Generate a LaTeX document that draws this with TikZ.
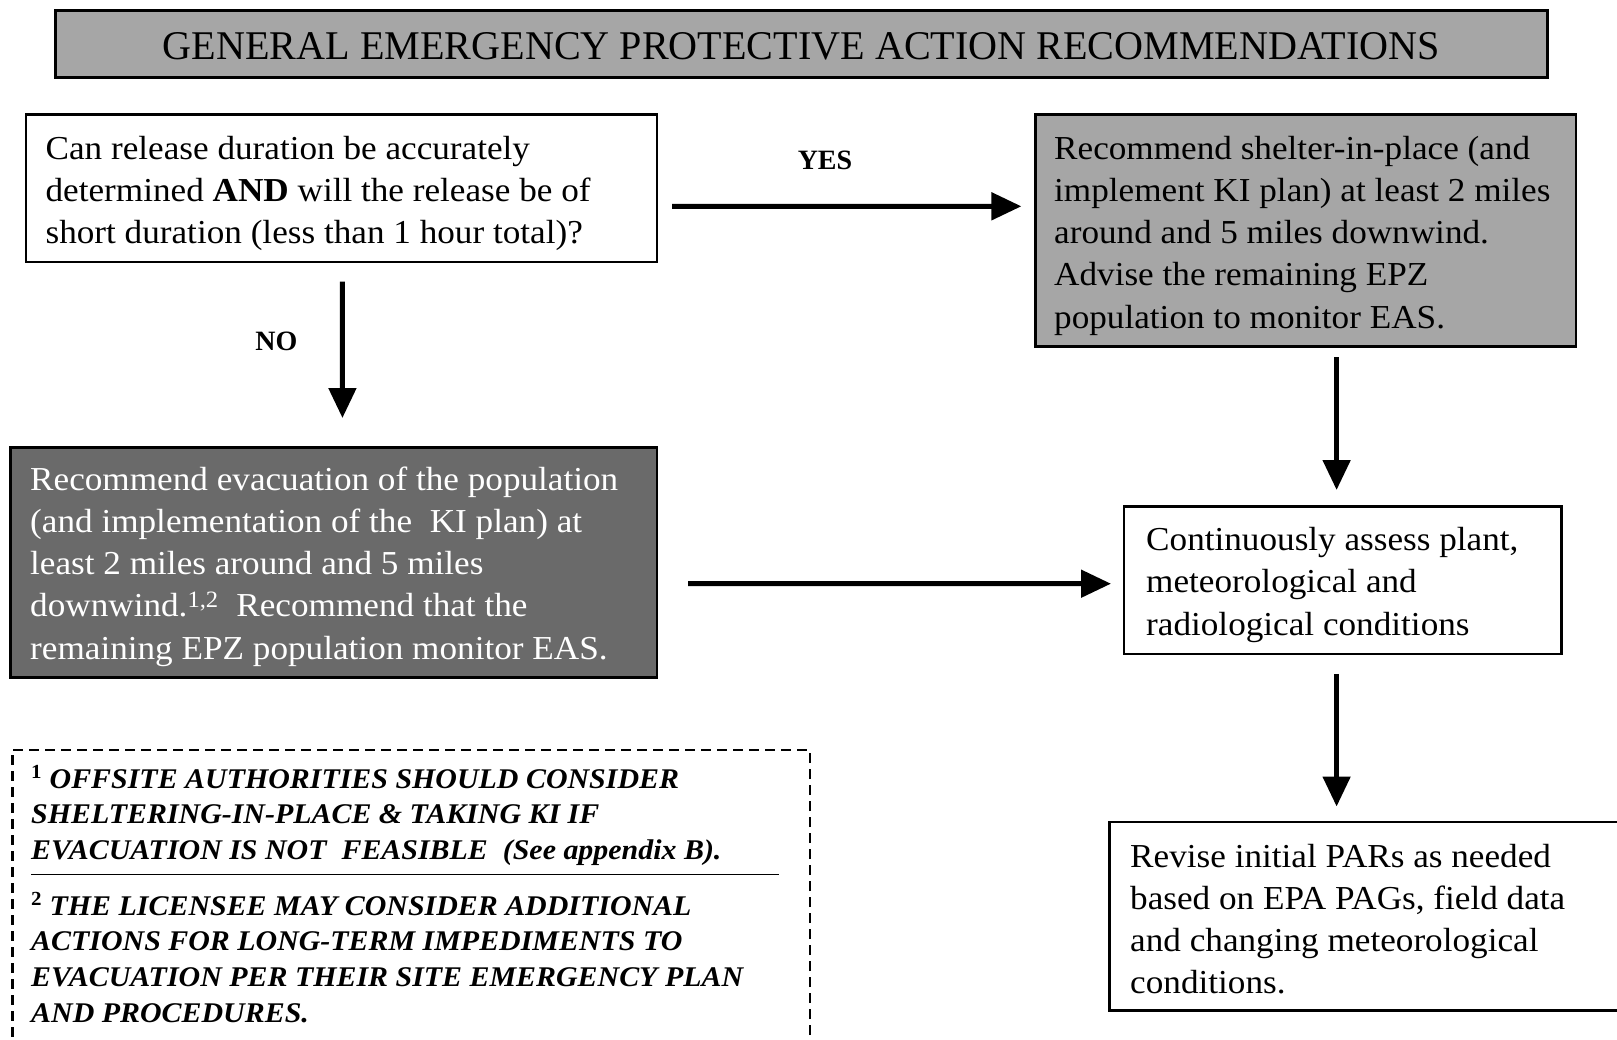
\documentclass[tikz,border=0pt]{standalone}
\usepackage{fontspec}
\setmainfont{Liberation Serif}
\usetikzlibrary{arrows.meta,calc}
\definecolor{lightfill}{HTML}{A6A6A6}
\definecolor{darkfill}{HTML}{6A6A6A}
% a block of left-aligned lines, slightly widened
\newcommand\txtlines[2][1.05]{\scalebox{#1}[1]{\begin{tabular}[t]{@{}l@{}}#2\end{tabular}}}

\begin{document}
\begin{tikzpicture}[x=1pt,y=-1pt,
  box/.style={draw=black, line width=2.5pt, inner sep=0pt, outer sep=0pt, anchor=north west},
  body/.style={anchor=base west, inner sep=0pt, font=\fontsize{33.5}{42.3}\selectfont},
  note/.style={anchor=base west, inner sep=0pt, font=\fontsize{28.5}{35.7}\selectfont\bfseries\itshape},
  lbl/.style={anchor=base, inner sep=0pt, font=\fontsize{28}{34}\selectfont\bfseries},
  arr/.style={line width=5pt, -{Triangle[length=30pt,width=27pt]}}]

\useasboundingbox[fill=white] (0,0) rectangle (1617,1039);

% title banner
\node[box, line width=3pt, fill=lightfill, minimum width=1491.3pt, minimum height=67pt] (title) at (55.7,10.3) {};
\node[anchor=base, inner sep=0pt] (titletext) at (801.5,59)
  {\resizebox{1277pt}{27pt}{GENERAL EMERGENCY PROTECTIVE ACTION RECOMMENDATIONS}};

% boxes
\node[box, minimum width=631.2pt, minimum height=147.5pt] (q) at (25.8,114.5) {};
\node[box, fill=lightfill, minimum width=540.4pt, minimum height=232pt] (sh) at (1035.4,114.5) {};
\node[box, fill=darkfill, minimum width=646.7pt, minimum height=230pt] (ev) at (10.3,447.6) {};
\node[box, minimum width=437.4pt, minimum height=147.4pt] (as) at (1124,506.4) {};
\node[box, minimum width=510pt, minimum height=188.6pt] (rv) at (1109.7,822) {};
\node[box, line width=2.2pt, dash pattern=on 10pt off 6pt, minimum width=797.2pt, minimum height=320pt] (notes) at (12.4,749.8) {};

% box texts
\node[body] (qt) at (45.4,159) {\txtlines{Can release duration be accurately\\
  determined \textbf{AND} will the release be of\\
  short duration (less than 1 hour total)?}};
\node[body] (sht) at (1054,159) {\txtlines{Recommend shelter-in-place (and\\
  implement KI plan) at least 2 miles\\
  around and 5 miles downwind.\\
  Advise the remaining EPZ\\
  population to monitor EAS.}};
\node[body, text=white] (evt) at (30,490) {\txtlines{Recommend evacuation of the population\\
  (and implementation of the\ \ KI plan) at\\
  least 2 miles around and 5 miles\\
  downwind.\textsuperscript{1,2}\ \ Recommend that the\\
  remaining EPZ population monitor EAS.}};
\node[body] (ast) at (1146,550.5) {\txtlines{Continuously assess plant,\\
  meteorological and\\
  radiological conditions}};
\node[body] (rvt) at (1130,867) {\txtlines{Revise initial PARs as needed\\
  based on EPA PAGs, field data\\
  and changing meteorological\\
  conditions.}};

% footnotes
\node[note] (n1) at (31,788) {\txtlines{\textsuperscript{\upshape 1} OFFSITE AUTHORITIES SHOULD CONSIDER\\
  SHELTERING-IN-PLACE \& TAKING KI IF\\
  EVACUATION IS NOT\ \ FEASIBLE\ \ (See appendix B).}};
\draw[line width=1.2pt] (31,874.5) -- (778.6,874.5);
\node[note] (n2) at (31,915) {\txtlines{\textsuperscript{\upshape 2} THE LICENSEE MAY CONSIDER ADDITIONAL\\
  ACTIONS FOR LONG-TERM IMPEDIMENTS TO\\
  EVACUATION PER THEIR SITE EMERGENCY PLAN\\
  AND PROCEDURES.}};

% connectors
\draw[arr] ($(q.east)+(15,18)$) -- ($(sh.west)+(-14,-24.2)$);
\node[lbl] (yes) at (825,169) {YES};
\draw[arr] ($(q.south)+(1,19.5)$) -- ($(ev.north)+(8.8,-29.6)$);
\node[lbl] (no) at (276.4,350) {NO};
\draw[arr] ($(ev.east)+(31,21.1)$) -- ($(as.west)+(-13,3.6)$);
\draw[arr] ($(sh.south)+(31,10.5)$) -- ($(as.north)+(-6.1,-16.4)$);
\draw[arr] ($(as.south)+(-6.1,20)$) -- ($(rv.north)+(-28.1,-15.5)$);
\end{tikzpicture}
\end{document}
